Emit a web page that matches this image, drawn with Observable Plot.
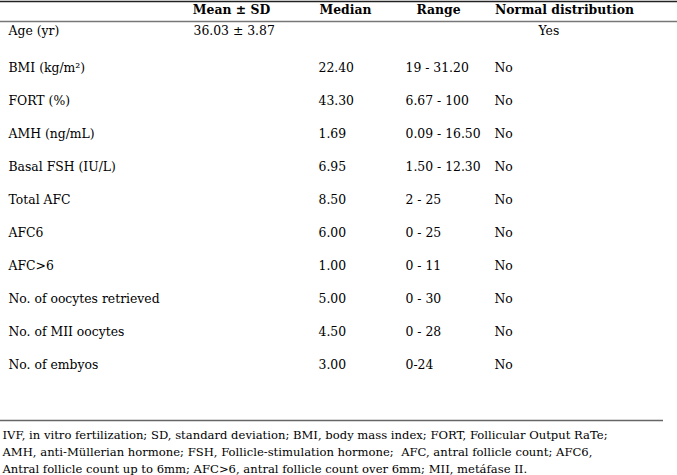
<!DOCTYPE html>
<html>
<head>
<meta charset="utf-8">
<script src="https://cdn.jsdelivr.net/npm/d3@7"></script>
<script src="https://cdn.jsdelivr.net/npm/@observablehq/plot@0.6"></script>
<style>
  html, body { margin: 0; padding: 0; background: #fff; }
  #chart svg { display: block; }
</style>
</head>
<body>
<div id="chart"></div>
<script>
// ---- data ----
const headers = ["Mean ± SD", "Median", "Range", "Normal distribution"];
const labels = ["Age (yr)", "BMI (kg/m²)", "FORT (%)", "AMH (ng/mL)", "Basal FSH (IU/L)", "Total AFC", "AFC6", "AFC>6", "No. of oocytes retrieved", "No. of MII oocytes", "No. of embyos"];
const means = ["36.03 ± 3.87", "", "", "", "", "", "", "", "", "", ""];
const medians = ["", "22.40", "43.30", "1.69", "6.95", "8.50", "6.00", "1.00", "5.00", "4.50", "3.00"];
const ranges = ["", "19 - 31.20", "6.67 - 100", "0.09 - 16.50", "1.50 - 12.30", "2 - 25", "0 - 25", "0 - 11", "0 - 30", "0 - 28", "0-24"];
const normals = ["Yes", "No", "No", "No", "No", "No", "No", "No", "No", "No", "No"];
const footnote = [
  "IVF, in vitro fertilization; SD, standard deviation; BMI, body mass index; FORT, Follicular Output RaTe;",
  "AMH, anti-Müllerian hormone; FSH, Follicle-stimulation hormone;  AFC, antral follicle count; AFC6,",
  "Antral follicle count up to 6mm; AFC>6, antral follicle count over 6mm; MII, metáfase II."
];

// ---- layout ----
const W = 677, H = 475;
const FONT = "DejaVu Serif";
const FS = 12.4;
const FS_NOTE = 11.6;
const colX = {label: 8, mean: 193, median: 318, range: 405, normal: 494, yes: 538};
const headX = [231, 345, 438, 564];

const rows = labels.map((label, i) => ({label, mean: means[i], median: medians[i], range: ranges[i], normal: normals[i]}));
const first = labels[0], last = labels[labels.length - 1];
const isFirst = d => d.label === first;

const common = {fontFamily: FONT, fontSize: FS, fill: "#000", lineAnchor: "middle"};

const plot = Plot.plot({
  width: W, height: H,
  margin: 0,
  style: {fontFamily: FONT, background: "#fff"},
  x: {type: "linear", domain: [0, W], range: [0, W], axis: null},
  y: {type: "point", domain: labels, range: [35, 365], padding: 0, axis: null},
  marks: [
    // rules
    Plot.ruleY([first], {x1: 0, x2: W, dy: -34, stroke: "#222", strokeWidth: 1.6}),
    Plot.ruleY([first], {x1: 0, x2: W, dy: -14, stroke: "#777", strokeWidth: 1.3}),
    Plot.ruleY([last], {x1: 0, x2: 663, dy: 55, stroke: "#666", strokeWidth: 1.5}),
    // headers
    Plot.text(headers, {x: (d, i) => headX[i], y: () => first, dy: -25, text: d => d, textAnchor: "middle", fontWeight: "bold", ...common}),
    // body: first row (slightly raised)
    Plot.text(rows.filter(isFirst), {x: colX.label, y: "label", text: "label", textAnchor: "start", dy: -4, ...common}),
    Plot.text(rows.filter(d => !isFirst(d)), {x: colX.label, y: "label", text: "label", textAnchor: "start", ...common}),
    Plot.text(rows.filter(d => d.mean), {x: colX.mean, y: "label", text: "mean", textAnchor: "start", dy: -4, ...common}),
    Plot.text(rows.filter(d => d.median), {x: colX.median, y: "label", text: "median", textAnchor: "start", ...common}),
    Plot.text(rows.filter(d => d.range), {x: colX.range, y: "label", text: "range", textAnchor: "start", ...common}),
    Plot.text(rows.filter(d => d.normal === "No"), {x: colX.normal, y: "label", text: "normal", textAnchor: "start", ...common}),
    Plot.text(rows.filter(d => d.normal === "Yes"), {x: colX.yes, y: "label", text: "normal", textAnchor: "start", dy: -4, ...common}),
    // footnote
    Plot.text([footnote.join("\n")], {x: 2, y: () => last, dy: 61, text: d => d, textAnchor: "start", lineAnchor: "top", lineHeight: 1.47, fontFamily: FONT, fontSize: FS_NOTE, fill: "#000"})
  ]
});
document.getElementById("chart").append(plot);
</script>
</body>
</html>
